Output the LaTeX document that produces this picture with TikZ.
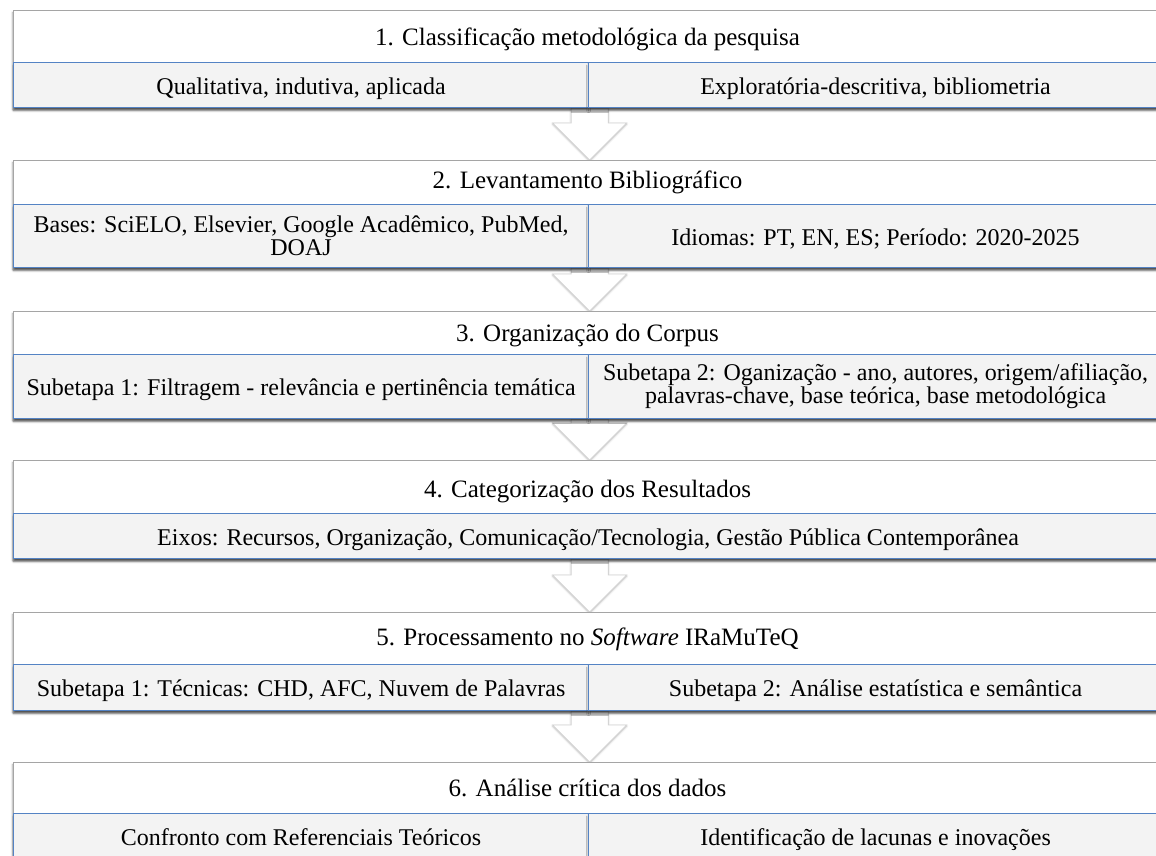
\documentclass[tikz,border=0pt]{standalone}
\usepackage{fontspec}
\setmainfont{Liberation Serif}
\usetikzlibrary{calc,shadows.blur,backgrounds}
\definecolor{subblue}{RGB}{84,131,196}
\definecolor{subfill}{RGB}{243,243,243}
\definecolor{outgray}{RGB}{165,165,165}
\tikzset{
 outerbox/.style={draw=outgray, line width=1.3pt, fill=white, anchor=north west, inner sep=0pt,
   blur shadow={shadow xshift=-1pt, shadow yshift=-2pt, shadow opacity=35, shadow blur radius=2pt}},
 subbox/.style={draw=subblue, line width=1.1pt, fill=subfill, anchor=north west, inner sep=2pt,
   align=center, font=\fontsize{24}{23}\selectfont,
   blur shadow={shadow xshift=0pt, shadow yshift=-3pt, shadow opacity=55, shadow blur radius=2pt}},
 oneline/.style={text height=21pt, text depth=3pt},
 headtxt/.style={font=\fontsize{25}{26}\selectfont, inner sep=0pt, anchor=base},
 blockarrow/.style={draw=gray!35, line width=0.8pt, fill=white,
   blur shadow={shadow xshift=0pt, shadow yshift=-1pt, shadow opacity=30, shadow blur radius=2pt}}
}
\newcommand{\stagearrow}[2]{%
  \draw[blockarrow] let \p1=(#1.south), \p2=(#2.north) in
   (\x1-17pt,\y1) -- (\x1+20pt,\y1) -- (\x1+20pt,\y2+37pt) -- (\x1+38.5pt,\y2+37pt)
   -- (\x1+1.5pt,\y2) -- (\x1-35.5pt,\y2+37pt) -- (\x1-17pt,\y2+37pt) -- cycle;}
\begin{document}
\begin{tikzpicture}[x=1pt,y=-1pt]
\useasboundingbox (0,0) rectangle (1156,856);
\clip (0,0) rectangle (1156,856);
% Stage 1
\node[outerbox, minimum width=1149pt, minimum height=97pt] (s1) at (13,10) {};
\node[headtxt] (h1) at (587.5,46) {1. Classificação metodológica da pesquisa};
\node[subbox, oneline, minimum width=575pt, minimum height=45pt] (a1) at (13,62) {Qualitativa, indutiva, aplicada};
\node[subbox, oneline, minimum width=574pt, minimum height=45pt] (b1) at (588,62) {Exploratória-descritiva, bibliometria};
% Stage 2
\node[outerbox, minimum width=1149pt, minimum height=107pt] (s2) at (13,160) {};
\node[headtxt] (h2) at (587.5,188) {2. Levantamento Bibliográfico};
\node[subbox, minimum width=575pt, minimum height=63pt] (a2) at (13,204) {Bases: SciELO, Elsevier, Google Acadêmico, PubMed,\\DOAJ};
\node[subbox, oneline, minimum width=574pt, minimum height=63pt] (b2) at (588,204) {Idiomas: PT, EN, ES; Período: 2020-2025};
% Stage 3
\node[outerbox, minimum width=1149pt, minimum height=107pt] (s3) at (13,311) {};
\node[headtxt] (h3) at (587.5,341) {3. Organização do Corpus};
\node[subbox, oneline, minimum width=575pt, minimum height=64pt] (a3) at (13,354) {Subetapa 1: Filtragem - relevância e pertinência temática};
\node[subbox, minimum width=574pt, minimum height=64pt] (b3) at (588,354) {Subetapa 2: Oganização - ano, autores, origem/afiliação,\\palavras-chave, base teórica, base metodológica};
% Stage 4
\node[outerbox, minimum width=1149pt, minimum height=98pt] (s4) at (13,460) {};
\node[headtxt] (h4) at (587.5,497) {4. Categorização dos Resultados};
\node[subbox, oneline, minimum width=1149pt, minimum height=45pt] (c4) at (13,513) {Eixos: Recursos, Organização, Comunicação/Tecnologia, Gestão Pública Contemporânea};
% Stage 5
\node[outerbox, minimum width=1149pt, minimum height=98pt] (s5) at (13,612) {};
\node[headtxt] (h5) at (587.5,645) {5. Processamento no \textit{Software} IRaMuTeQ};
\node[subbox, oneline, minimum width=575pt, minimum height=46pt] (a5) at (13,664) {Subetapa 1: Técnicas: CHD, AFC, Nuvem de Palavras};
\node[subbox, oneline, minimum width=574pt, minimum height=46pt] (b5) at (588,664) {Subetapa 2: Análise estatística e semântica};
% Stage 6
\node[outerbox, minimum width=1149pt, minimum height=97pt] (s6) at (13,762) {};
\node[headtxt] (h6) at (587.5,796) {6. Análise crítica dos dados};
\node[subbox, oneline, minimum width=575pt, minimum height=46pt] (a6) at (13,813) {Confronto com Referenciais Teóricos};
\node[subbox, oneline, minimum width=574pt, minimum height=46pt] (b6) at (588,813) {Identificação de lacunas e inovações};
% Arrows
\begin{scope}[on background layer]
\stagearrow{s1}{s2}
\stagearrow{s2}{s3}
\stagearrow{s3}{s4}
\stagearrow{s4}{s5}
\stagearrow{s5}{s6}
\end{scope}
\end{tikzpicture}
\end{document}
